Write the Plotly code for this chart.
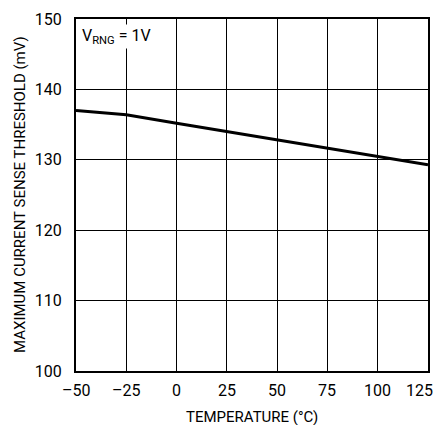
import plotly.graph_objects as go

temps = [-50, -25, 0, 25, 50, 75, 100, 125]
threshold = [137.0, 136.4, 135.2, 134.0, 132.8, 131.7, 130.5, 129.3]

x_ticks = [-50, -25, 0, 25, 50, 75, 100, 125]
x_labels = ["\u201350", "\u201325", "0", "25", "50", "75", "100", "125"]
y_ticks = [100, 110, 120, 130, 140, 150]
y_labels = ["100", "110", "120", "130", "140", "150"]

FONT = "Roboto, Liberation Sans, sans-serif"

fig = go.Figure()
fig.add_trace(go.Scatter(x=temps, y=threshold, mode="lines",
                         line=dict(color="black", width=3), showlegend=False))

# x tick labels as annotations so the last one can stay inside the page
tick_annots = []
for i, (tv, tl) in enumerate(zip(x_ticks, x_labels)):
    last = i == len(x_ticks) - 1
    tick_annots.append(dict(
        text=tl, xref="x", yref="paper", x=tv, y=0, yshift=-19,
        xanchor="right" if last else "center", xshift=7 if last else 0,
        yanchor="middle", showarrow=False, font=dict(size=16)))

fig.update_layout(
    width=435, height=417,
    margin=dict(l=68, r=15, t=11, b=54),
    plot_bgcolor="white", paper_bgcolor="white",
    font=dict(family=FONT, color="black", size=16),
    xaxis=dict(range=[-50, 125], tickvals=x_ticks, showticklabels=False,
               showgrid=True, gridcolor="black", gridwidth=1,
               showline=True, linecolor="black", linewidth=2, mirror=True,
               ticks="", zeroline=False, automargin=False),
    yaxis=dict(range=[100, 150], tickvals=y_ticks, ticktext=y_labels,
               showgrid=True, gridcolor="black", gridwidth=1,
               showline=True, linecolor="black", linewidth=2, mirror=True,
               ticks="", zeroline=False, tickfont=dict(size=16),
               ticklabelstandoff=9, automargin=False),
    annotations=tick_annots + [
        dict(text="V<sub>RNG</sub> = 1V", xref="paper", yref="paper",
             x=0.012, y=0.985, xanchor="left", yanchor="top",
             showarrow=False, bgcolor="white", font=dict(size=16)),
        dict(text="TEMPERATURE (°C)", xref="paper", yref="paper",
             x=0.5, y=0, yshift=-46, xanchor="center", yanchor="middle",
             showarrow=False, font=dict(size=15)),
        dict(text="MAXIMUM CURRENT SENSE THRESHOLD (mV)", xref="paper", yref="paper",
             x=0, xshift=-56, y=0.5, xanchor="center", yanchor="middle",
             textangle=-90, showarrow=False, font=dict(size=15)),
    ],
)

fig.write_html("out.html")
